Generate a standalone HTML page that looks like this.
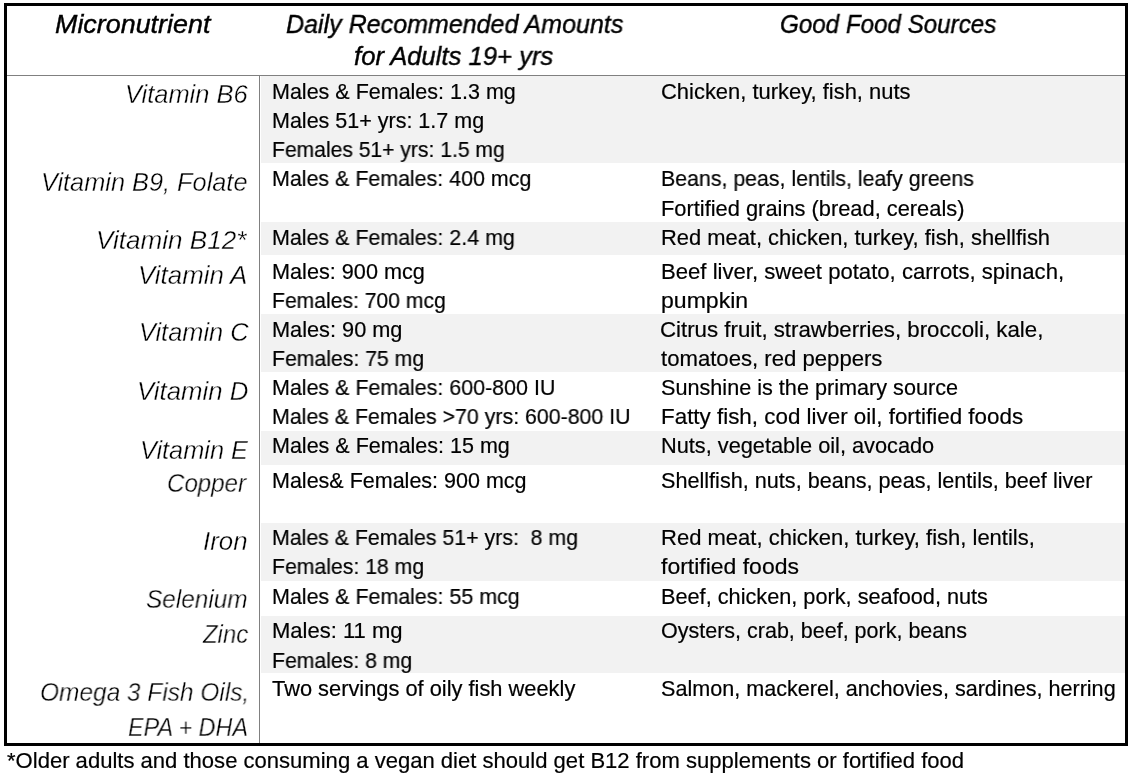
<!DOCTYPE html>
<html><head><meta charset="utf-8"><title>Micronutrients</title>
<style>
html,body{margin:0;padding:0;background:#fff;}
body{width:1133px;height:778px;position:relative;overflow:hidden;font-family:"Liberation Sans",sans-serif;}
.t{position:absolute;white-space:pre;line-height:1;transform-origin:0 0;will-change:transform;}
.bg{position:absolute;}
.box{position:absolute;left:4px;top:3px;width:1118px;height:737px;border:3px solid #000;}
.hl{position:absolute;left:7px;top:75px;width:1118px;height:1px;background:#808080;}
.vl{position:absolute;left:259px;top:76px;width:1px;height:667px;background:#808080;}
</style></head><body>
<div class="bg" style="left:261px;top:76px;width:864px;height:87.0px;background:#f2f2f2"></div>
<div class="bg" style="left:261px;top:222.3px;width:864px;height:33.0px;background:#f2f2f2"></div>
<div class="bg" style="left:261px;top:314px;width:864px;height:57.7px;background:#f2f2f2"></div>
<div class="bg" style="left:261px;top:431.2px;width:864px;height:33.4px;background:#f2f2f2"></div>
<div class="bg" style="left:261px;top:523.4px;width:864px;height:57.6px;background:#f2f2f2"></div>
<div class="bg" style="left:261px;top:615.8px;width:864px;height:57.5px;background:#f2f2f2"></div>
<div class="box"></div>
<div class="hl"></div>
<div class="vl"></div>
<div class="t" style="left:55.19px;top:12.15px;font-size:25.70px;font-style:italic;transform:scaleX(1.0466);color:#000;-webkit-text-stroke:0.4px #000">Micronutrient</div>
<div class="t" style="left:286.25px;top:12.05px;font-size:25.70px;font-style:italic;transform:scaleX(0.9749);color:#000;-webkit-text-stroke:0.4px #000">Daily Recommended Amounts</div>
<div class="t" style="left:353.80px;top:44.45px;font-size:25.70px;font-style:italic;transform:scaleX(0.9982);color:#000;-webkit-text-stroke:0.4px #000">for Adults 19+ yrs</div>
<div class="t" style="left:780.19px;top:11.65px;font-size:25.70px;font-style:italic;transform:scaleX(0.9408);color:#000;-webkit-text-stroke:0.4px #000">Good Food Sources</div>
<div class="t" style="left:124.73px;top:82.22px;font-size:25.14px;font-style:italic;transform:scaleX(1.0134);color:#000;-webkit-text-stroke:0.35px #fff">Vitamin B6</div>
<div class="t" style="left:40.75px;top:169.72px;font-size:25.14px;font-style:italic;transform:scaleX(1.0081);color:#000;-webkit-text-stroke:0.35px #fff">Vitamin B9, Folate</div>
<div class="t" style="left:95.88px;top:227.92px;font-size:25.14px;font-style:italic;transform:scaleX(1.0382);color:#000;-webkit-text-stroke:0.35px #fff">Vitamin B12*</div>
<div class="t" style="left:138.20px;top:262.52px;font-size:25.14px;font-style:italic;transform:scaleX(1.0302);color:#000;-webkit-text-stroke:0.35px #fff">Vitamin A</div>
<div class="t" style="left:139.14px;top:320.32px;font-size:25.14px;font-style:italic;transform:scaleX(1.0106);color:#000;-webkit-text-stroke:0.35px #fff">Vitamin C</div>
<div class="t" style="left:136.81px;top:378.72px;font-size:25.14px;font-style:italic;transform:scaleX(1.0266);color:#000;-webkit-text-stroke:0.35px #fff">Vitamin D</div>
<div class="t" style="left:139.95px;top:437.62px;font-size:25.14px;font-style:italic;transform:scaleX(1.0085);color:#000;-webkit-text-stroke:0.35px #fff">Vitamin E</div>
<div class="t" style="left:167.27px;top:471.12px;font-size:25.14px;font-style:italic;transform:scaleX(0.9593);color:#000;-webkit-text-stroke:0.35px #fff">Copper</div>
<div class="t" style="left:203.17px;top:529.42px;font-size:25.14px;font-style:italic;transform:scaleX(1.0291);color:#000;-webkit-text-stroke:0.35px #fff">Iron</div>
<div class="t" style="left:146.02px;top:587.32px;font-size:25.14px;font-style:italic;transform:scaleX(0.9701);color:#000;-webkit-text-stroke:0.35px #fff">Selenium</div>
<div class="t" style="left:202.88px;top:622.32px;font-size:25.14px;font-style:italic;transform:scaleX(0.9505);color:#000;-webkit-text-stroke:0.35px #fff">Zinc</div>
<div class="t" style="left:39.55px;top:680.32px;font-size:25.14px;font-style:italic;transform:scaleX(0.9730);color:#000;-webkit-text-stroke:0.35px #fff">Omega 3 Fish Oils,</div>
<div class="t" style="left:127.60px;top:714.62px;font-size:25.14px;font-style:italic;transform:scaleX(0.9284);color:#000;-webkit-text-stroke:0.35px #fff">EPA + DHA</div>
<div class="t" style="left:271.98px;top:81.59px;font-size:21.51px;font-style:normal;transform:scaleX(0.9984);color:#000;-webkit-text-stroke:0.2px #000">Males &amp; Females: 1.3 mg</div>
<div class="t" style="left:271.98px;top:110.59px;font-size:21.51px;font-style:normal;transform:scaleX(0.9987);color:#000;-webkit-text-stroke:0.2px #000">Males 51+ yrs: 1.7 mg</div>
<div class="t" style="left:272.21px;top:139.59px;font-size:21.51px;font-style:normal;transform:scaleX(0.9811);color:#000;-webkit-text-stroke:0.2px #000">Females 51+ yrs: 1.5 mg</div>
<div class="t" style="left:271.99px;top:168.89px;font-size:21.51px;font-style:normal;transform:scaleX(0.9955);color:#000;-webkit-text-stroke:0.2px #000">Males &amp; Females: 400 mcg</div>
<div class="t" style="left:271.99px;top:227.79px;font-size:21.51px;font-style:normal;transform:scaleX(0.9963);color:#000;-webkit-text-stroke:0.2px #000">Males &amp; Females: 2.4 mg</div>
<div class="t" style="left:271.97px;top:261.79px;font-size:21.51px;font-style:normal;transform:scaleX(1.0072);color:#000;-webkit-text-stroke:0.2px #000">Males: 900 mcg</div>
<div class="t" style="left:272.21px;top:290.59px;font-size:21.51px;font-style:normal;transform:scaleX(0.9822);color:#000;-webkit-text-stroke:0.2px #000">Females: 700 mcg</div>
<div class="t" style="left:271.96px;top:319.79px;font-size:21.51px;font-style:normal;transform:scaleX(1.0109);color:#000;-webkit-text-stroke:0.2px #000">Males: 90 mg</div>
<div class="t" style="left:272.20px;top:348.59px;font-size:21.51px;font-style:normal;transform:scaleX(0.9868);color:#000;-webkit-text-stroke:0.2px #000">Females: 75 mg</div>
<div class="t" style="left:271.99px;top:377.59px;font-size:21.51px;font-style:normal;transform:scaleX(0.9960);color:#000;-webkit-text-stroke:0.2px #000">Males &amp; Females: 600-800 IU</div>
<div class="t" style="left:271.99px;top:407.39px;font-size:21.51px;font-style:normal;transform:scaleX(0.9918);color:#000;-webkit-text-stroke:0.2px #000">Males &amp; Females &gt;70 yrs: 600-800 IU</div>
<div class="t" style="left:271.98px;top:436.09px;font-size:21.51px;font-style:normal;transform:scaleX(0.9980);color:#000;-webkit-text-stroke:0.2px #000">Males &amp; Females: 15 mg</div>
<div class="t" style="left:271.98px;top:470.59px;font-size:21.51px;font-style:normal;transform:scaleX(0.9987);color:#000;-webkit-text-stroke:0.2px #000">Males&amp; Females: 900 mcg</div>
<div class="t" style="left:272.00px;top:528.19px;font-size:21.51px;font-style:normal;transform:scaleX(0.9907);color:#000;-webkit-text-stroke:0.2px #000">Males &amp; Females 51+ yrs:  8 mg</div>
<div class="t" style="left:272.20px;top:557.49px;font-size:21.51px;font-style:normal;transform:scaleX(0.9868);color:#000;-webkit-text-stroke:0.2px #000">Females: 18 mg</div>
<div class="t" style="left:271.99px;top:586.59px;font-size:21.51px;font-style:normal;transform:scaleX(0.9967);color:#000;-webkit-text-stroke:0.2px #000">Males &amp; Females: 55 mcg</div>
<div class="t" style="left:271.94px;top:621.39px;font-size:21.51px;font-style:normal;transform:scaleX(1.0240);color:#000;-webkit-text-stroke:0.2px #000">Males: 11 mg</div>
<div class="t" style="left:272.20px;top:650.59px;font-size:21.51px;font-style:normal;transform:scaleX(0.9860);color:#000;-webkit-text-stroke:0.2px #000">Females: 8 mg</div>
<div class="t" style="left:271.56px;top:679.49px;font-size:21.51px;font-style:normal;transform:scaleX(1.0153);color:#000;-webkit-text-stroke:0.2px #000">Two servings of oily fish weekly</div>
<div class="t" style="left:660.50px;top:81.59px;font-size:21.51px;font-style:normal;transform:scaleX(1.0201);color:#000;-webkit-text-stroke:0.2px #000">Chicken, turkey, fish, nuts</div>
<div class="t" style="left:660.59px;top:168.89px;font-size:21.51px;font-style:normal;transform:scaleX(0.9918);color:#000;-webkit-text-stroke:0.2px #000">Beans, peas, lentils, leafy greens</div>
<div class="t" style="left:660.55px;top:198.79px;font-size:21.51px;font-style:normal;transform:scaleX(1.0158);color:#000;-webkit-text-stroke:0.2px #000">Fortified grains (bread, cereals)</div>
<div class="t" style="left:660.55px;top:227.79px;font-size:21.51px;font-style:normal;transform:scaleX(1.0185);color:#000;-webkit-text-stroke:0.2px #000">Red meat, chicken, turkey, fish, shellfish</div>
<div class="t" style="left:660.53px;top:261.79px;font-size:21.51px;font-style:normal;transform:scaleX(1.0284);color:#000;-webkit-text-stroke:0.2px #000">Beef liver, sweet potato, carrots, spinach,</div>
<div class="t" style="left:660.50px;top:290.59px;font-size:21.51px;font-style:normal;transform:scaleX(1.0725);color:#000;-webkit-text-stroke:0.2px #000">pumpkin</div>
<div class="t" style="left:660.49px;top:319.79px;font-size:21.51px;font-style:normal;transform:scaleX(1.0349);color:#000;-webkit-text-stroke:0.2px #000">Citrus fruit, strawberries, broccoli, kale,</div>
<div class="t" style="left:661.07px;top:348.59px;font-size:21.51px;font-style:normal;transform:scaleX(1.0293);color:#000;-webkit-text-stroke:0.2px #000">tomatoes, red peppers</div>
<div class="t" style="left:660.63px;top:377.59px;font-size:21.51px;font-style:normal;transform:scaleX(1.0062);color:#000;-webkit-text-stroke:0.2px #000">Sunshine is the primary source</div>
<div class="t" style="left:660.51px;top:407.39px;font-size:21.51px;font-style:normal;transform:scaleX(1.0413);color:#000;-webkit-text-stroke:0.2px #000">Fatty fish, cod liver oil, fortified foods</div>
<div class="t" style="left:660.56px;top:436.09px;font-size:21.51px;font-style:normal;transform:scaleX(1.0113);color:#000;-webkit-text-stroke:0.2px #000">Nuts, vegetable oil, avocado</div>
<div class="t" style="left:660.63px;top:470.59px;font-size:21.51px;font-style:normal;transform:scaleX(1.0058);color:#000;-webkit-text-stroke:0.2px #000">Shellfish, nuts, beans, peas, lentils, beef liver</div>
<div class="t" style="left:660.54px;top:528.19px;font-size:21.51px;font-style:normal;transform:scaleX(1.0236);color:#000;-webkit-text-stroke:0.2px #000">Red meat, chicken, turkey, fish, lentils,</div>
<div class="t" style="left:661.06px;top:557.49px;font-size:21.51px;font-style:normal;transform:scaleX(1.0688);color:#000;-webkit-text-stroke:0.2px #000">fortified foods</div>
<div class="t" style="left:660.56px;top:586.59px;font-size:21.51px;font-style:normal;transform:scaleX(1.0095);color:#000;-webkit-text-stroke:0.2px #000">Beef, chicken, pork, seafood, nuts</div>
<div class="t" style="left:660.63px;top:621.39px;font-size:21.51px;font-style:normal;transform:scaleX(1.0002);color:#000;-webkit-text-stroke:0.2px #000">Oysters, crab, beef, pork, beans</div>
<div class="t" style="left:660.63px;top:679.49px;font-size:21.51px;font-style:normal;transform:scaleX(1.0038);color:#000;-webkit-text-stroke:0.2px #000">Salmon, mackerel, anchovies, sardines, herring</div>
<div class="t" style="left:7.17px;top:751.49px;font-size:21.51px;font-style:normal;transform:scaleX(1.0254);color:#000;-webkit-text-stroke:0.2px #000">*Older adults and those consuming a vegan diet should get B12 from supplements or fortified food</div>
</body></html>
